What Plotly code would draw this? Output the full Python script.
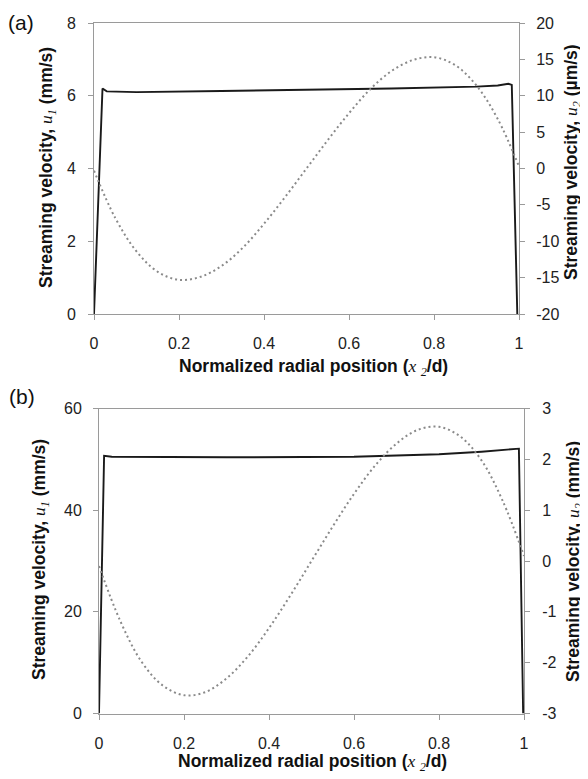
import plotly.graph_objects as go

# ---------------- data ----------------
# Panel (a)
a_u1_x = [0.0, 0.020, 0.030, 0.10, 0.30, 0.50, 0.70, 0.90, 0.95, 0.975, 0.983, 0.996]
a_u1_y = [0.0, 6.20, 6.12, 6.10, 6.13, 6.16, 6.20, 6.25, 6.28, 6.33, 6.30, 0.0]   # mm/s

a_u2_x = [0.0, 0.05, 0.10, 0.15, 0.20, 0.25, 0.30, 0.35, 0.40, 0.45, 0.50,
          0.55, 0.60, 0.65, 0.70, 0.75, 0.80, 0.85, 0.90, 0.95, 1.0]
a_u2_y = [-0.3, -6.8, -11.4, -14.2, -15.3, -14.9, -13.4, -10.9, -7.6, -3.9, 0.0,
          3.9, 7.6, 10.9, 13.4, 14.9, 15.3, 14.2, 11.4, 6.8, 0.3]              # µm/s

# Panel (b)
b_u1_x = [0.0, 0.012, 0.03, 0.30, 0.60, 0.80, 0.90, 0.988, 0.998]
b_u1_y = [0.0, 50.7, 50.5, 50.4, 50.5, 51.0, 51.5, 52.1, 0.0]                 # mm/s

b_u2_x = a_u2_x
b_u2_y = [-0.1, -1.18, -1.98, -2.45, -2.64, -2.58, -2.31, -1.88, -1.32, -0.68, 0.0,
          0.68, 1.32, 1.88, 2.31, 2.58, 2.64, 2.45, 1.98, 1.18, 0.1]           # mm/s

x_ticks = [0, 0.2, 0.4, 0.6, 0.8, 1]
x_ticktext = ["0", "0.2", "0.4", "0.6", "0.8", "1"]
a_left_ticks = [0, 2, 4, 6, 8]
a_right_ticks = [-20, -15, -10, -5, 0, 5, 10, 15, 20]
a_right_text = ["-20", "-15", "-10", "-5", "0", "5", "10", "15", "20"]
b_left_ticks = [0, 20, 40, 60]
b_right_ticks = [-3, -2, -1, 0, 1, 2, 3]
b_right_text = ["-3", "-2", "-1", "0", "1", "2", "3"]

# ---------------- figure ----------------
# The page body has an 8px margin, so the figure is laid out in page pixels minus 8.
OFF = 8
W, H = 588 - OFF, 779 - OFF

def px(x):
    return (x - OFF) / W

def py(y):
    return 1 - (y - OFF) / H

SOLID = dict(color="#1a1a1a", width=1.9)
DOT = dict(color="#8a8a8a", width=2, dash="2px,3px", shape="spline")

fig = go.Figure()
fig.add_trace(go.Scatter(x=a_u1_x, y=a_u1_y, mode="lines", line=SOLID, xaxis="x", yaxis="y"))
fig.add_trace(go.Scatter(x=a_u2_x, y=a_u2_y, mode="lines", line=DOT, xaxis="x", yaxis="y2"))
fig.add_trace(go.Scatter(x=b_u1_x, y=b_u1_y, mode="lines", line=SOLID, xaxis="x2", yaxis="y3"))
fig.add_trace(go.Scatter(x=b_u2_x, y=b_u2_y, mode="lines", line=DOT, xaxis="x2", yaxis="y4"))

AX = "#9a9a9a"
TF = dict(family="Liberation Sans, Arial, sans-serif", size=16, color="#222")

def xax(domain, anchor):
    return dict(domain=domain, anchor=anchor, range=[0, 1], tickvals=x_ticks, ticktext=x_ticktext,
                showline=True, linecolor=AX, linewidth=1, mirror=True, ticks="outside",
                ticklen=5, tickcolor=AX, showgrid=False, zeroline=False, tickfont=TF,
                ticklabelstandoff=10, automargin=False, fixedrange=True)

def yax(domain, anchor, rng, vals, text, side="left", overlaying=None, standoff=8):
    d = dict(anchor=anchor, range=rng, tickvals=vals, ticktext=text, side=side,
             showline=True, linecolor=AX, linewidth=1, ticks="outside", ticklen=5,
             tickcolor=AX, showgrid=False, zeroline=False, tickfont=TF,
             ticklabelstandoff=standoff, automargin=False)
    if overlaying:
        d["overlaying"] = overlaying
    else:
        d["domain"] = domain
    return d

ya = [py(314), py(23)]
yb = [py(713.5), py(408.5)]

fig.update_layout(
    width=W, height=H, margin=dict(l=0, r=0, t=0, b=0),
    paper_bgcolor="white", plot_bgcolor="white", showlegend=False,
    xaxis=xax([px(94), px(519)], "y"),
    yaxis=yax(ya, "x", [0, 8], a_left_ticks, [str(v) for v in a_left_ticks], standoff=9),
    yaxis2=yax(None, "x", [-20, 20], a_right_ticks, a_right_text, side="right", overlaying="y", standoff=8),
    xaxis2=xax([px(99), px(524)], "y3"),
    yaxis3=yax(yb, "x2", [0, 60], b_left_ticks, [str(v) for v in b_left_ticks], standoff=8),
    yaxis4=yax(None, "x2", [-3, 3], b_right_ticks, b_right_text, side="right", overlaying="y3", standoff=9),
)

XT_FONT = dict(family="Liberation Sans, Arial, sans-serif", size=17.5, color="#111")
YT_FONT = dict(family="Liberation Sans, Arial, sans-serif", size=17.5, color="#111")
SERIF = "font-family:'Liberation Serif','Times New Roman',serif;font-weight:normal"

def ytitle(sub, unit):
    return ("<b>Streaming velocity, </b><span style=\"" + SERIF + "\"><i>u</i><sub><i>" + sub +
            "</i></sub></span><b> (" + unit + ")</b>")

xtitle = ("<b>Normalized radial position (</b><span style=\"" + SERIF + "\"><i>x</i> <sub><i>2</i></sub></span>"
          "<b>/d)</b>")

ann = []
def add(text, x, y, angle, font):
    ann.append(dict(text=text, x=px(x), y=py(y), xref="paper", yref="paper",
                    xanchor="center", yanchor="middle", showarrow=False, textangle=angle, font=font))

add(ytitle("1", "mm/s"), 47, 168, -90, YT_FONT)
add(ytitle("2", "µm/s"), 573, 162, -90, YT_FONT)
add(xtitle, 313, 367, 0, XT_FONT)
add(ytitle("1", "mm/s"), 40, 560, -90, YT_FONT)
add(ytitle("2", "mm/s"), 574, 562, -90, YT_FONT)
add(xtitle, 312, 762, 0, XT_FONT)
PF = dict(family="Liberation Sans, Arial, sans-serif", size=21, color="#111")
add("(a)", 21, 22, 0, PF)
add("(b)", 22, 396, 0, PF)
fig.update_layout(annotations=ann)

fig.write_html("out.html")
